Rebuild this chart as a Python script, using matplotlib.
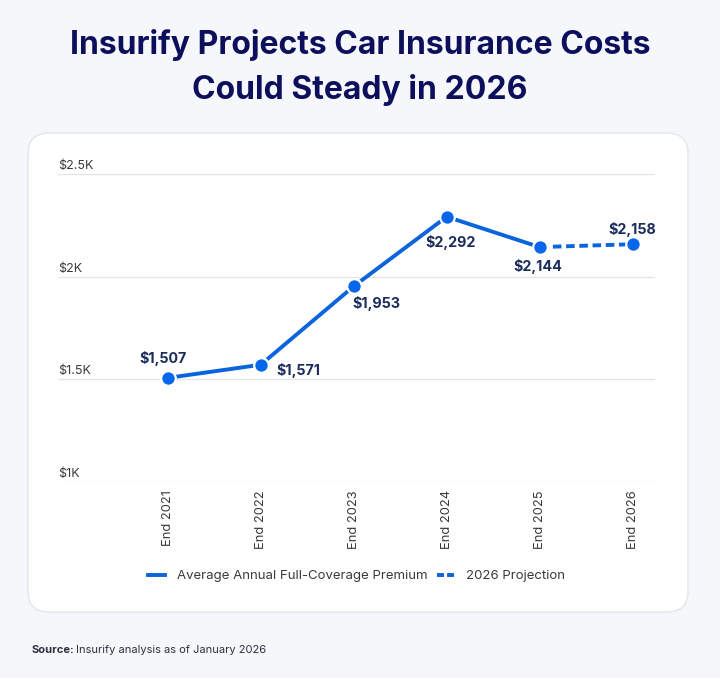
import matplotlib

matplotlib.use("Agg")
import matplotlib.pyplot as plt
from matplotlib.lines import Line2D
from matplotlib.patches import FancyBboxPatch
import matplotlib.transforms as mtransforms

plt.rcParams["font.family"] = ["Inter", "DejaVu Sans"]

_BG = "#f5f7fb"
_BLUE = "#0a64dc"
_DOT = "#0766ec"
_NAVY = "#0d0f5c"
_LBL = "#1b2b5b"
_GREY = "#3a3a3a"

years = ["End 2021", "End 2022", "End 2023", "End 2024", "End 2025", "End 2026"]
premium = [1507, 1571, 1953, 2292, 2144, 2158]
yticks = [1000, 1500, 2000, 2500]
ytick_labels = ["$1K", "$1.5K", "$2K", "$2.5K"]
# label offsets in points (dx, dy) for each data point
label_off = [(-3.6, 8.5), (11, -4.3), (16, -7), (3, -13), (-1, -8.5), (-0.5, 5.5)]
label_va = ["bottom", "center", "top", "top", "top", "bottom"]
label_ha = ["center", "left", "center", "center", "center", "center"]

fig = plt.figure(figsize=(7.2, 6.78), dpi=100)
fig.patch.set_facecolor(_BG)

W, H = 720, 678
card = FancyBboxPatch((28 / W, 1 - 612 / H), (688 - 28) / W, (612 - 133) / H,
                      boxstyle="round,pad=0,rounding_size=0.03",
                      transform=fig.transFigure, facecolor="white",
                      edgecolor="#e2e5ec", lw=1.0, zorder=-5)
fig.patches.append(card)

fig.text(0.5, 1 - 45 / H, "Insurify Projects Car Insurance Costs", ha="center",
         va="center", fontsize=23, fontweight="bold", color=_NAVY)
fig.text(0.5, 1 - 90 / H, "Could Steady in 2026", ha="center",
         va="center", fontsize=23, fontweight="bold", color=_NAVY)

ax = fig.add_axes([58 / W, 1 - 482 / H, (655 - 58) / W, (482 - 174) / H])
ax.set_zorder(2)
ax.set_facecolor("none")
x = list(range(len(years)))
ax.plot(x[:5], premium[:5], color=_BLUE, lw=2.8, solid_capstyle="butt", zorder=3)
ax.plot(x[4:], premium[4:], color=_BLUE, lw=2.8, dashes=(2.2, 1.2), zorder=3)
ax.plot(x, premium, "o", color=_DOT, ms=10.5, mec="white", mew=1.6, zorder=4,
        clip_on=False)

for i, v in enumerate(premium):
    ax.annotate(f"${v:,}", (x[i], v), xytext=label_off[i], textcoords="offset points",
                ha=label_ha[i], va=label_va[i], fontsize=10.3, fontweight="bold",
                color=_LBL)

ax.set_xlim(-1.18, 5.24)
ax.set_ylim(1000, 2500)
for s in ax.spines.values():
    s.set_visible(False)
for t in yticks:
    ax.axhline(t, color="#e3e3e3", lw=0.9, zorder=1)
ax.set_yticks([])
trans = mtransforms.blended_transform_factory(ax.transAxes, ax.transData)
for t, lab in zip(yticks, ytick_labels):
    ax.annotate(lab, (0, t), xycoords=trans, xytext=(0, 1.5), textcoords="offset points",
                ha="left", va="bottom", fontsize=9, color=_GREY)

ax.set_xticks(x, years, rotation=90, fontsize=9.3, color=_GREY)
ax.tick_params(axis="x", length=0, pad=6)

handles = [Line2D([], [], color=_BLUE, lw=2.8),
           Line2D([], [], color=_BLUE, lw=2.8, dashes=(1.8, 0.8))]
fig.legend(handles, ["Average Annual Full-Coverage Premium", "2026 Projection"],
           loc="center", bbox_to_anchor=(0.495, 1 - 576 / H), ncol=2, frameon=False,
           fontsize=9.5, handlelength=1.3, handletextpad=0.9, columnspacing=0.7,
           labelcolor=_GREY)

fig.text(32 / W, 1 - 650 / H, "Source:", ha="left", va="center", fontsize=8,
         fontweight="bold", color="#2a3040")
fig.text(76 / W, 1 - 650 / H, "Insurify analysis as of January 2026", ha="left",
         va="center", fontsize=8, color="#2a3040")

fig.savefig("out.png", dpi=100, facecolor=fig.get_facecolor())
